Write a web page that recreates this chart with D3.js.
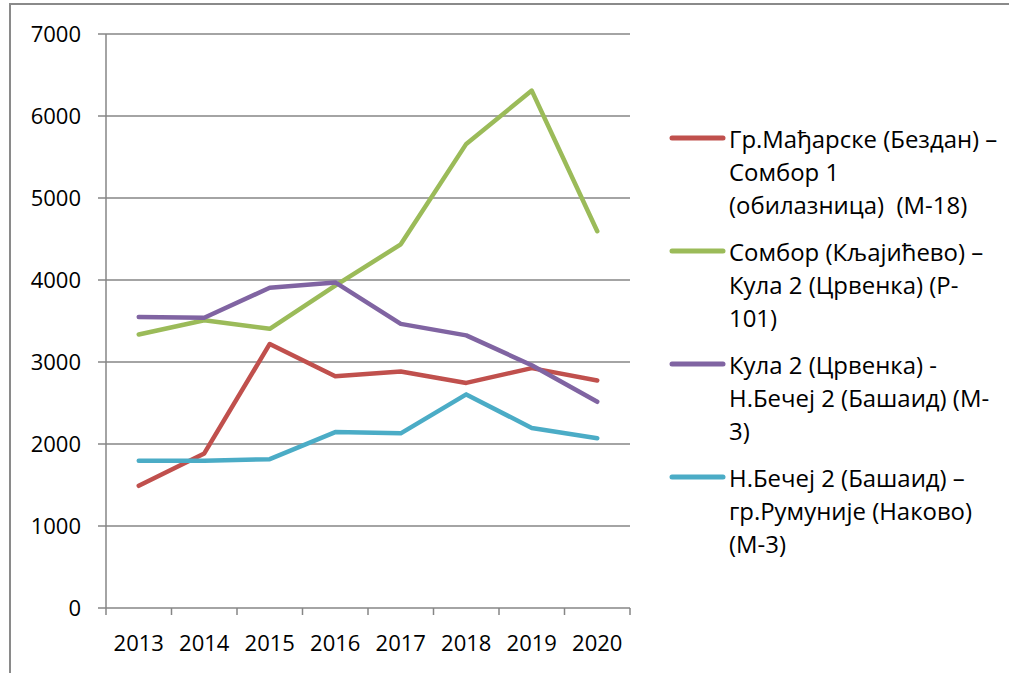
<!DOCTYPE html>
<html>
<head>
<meta charset="utf-8">
<script src="https://cdn.jsdelivr.net/npm/d3@7"></script>
<style>
  html, body { margin: 0; padding: 0; background: #fff; }
  svg { display: block; }
  text { font-family: "Open Sans", sans-serif; fill: #000; }
</style>
</head>
<body>
<svg id="chart" width="1009" height="673"></svg>
<script>
// Years on the category axis
const years = ["2013", "2014", "2015", "2016", "2017", "2018", "2019", "2020"];

// Traffic volume per road section
const bezdanSombor   = [1490, 1885, 3220, 2825, 2885, 2745, 2925, 2775];
const somborKula     = [3335, 3510, 3405, 3930, 4435, 5660, 6310, 4595];
const kulaBecej      = [3550, 3540, 3905, 3970, 3465, 3325, 2960, 2515];
const becejNakovo    = [1795, 1795, 1815, 2145, 2130, 2605, 2195, 2070];

const yTicks = [0, 1000, 2000, 3000, 4000, 5000, 6000, 7000];

const seriesNames = [
  ["Гр.Мађарске (Бездан) –", "Сомбор 1", "(обилазница)  (М-18)"],
  ["Сомбор (Кљајићево) –", "Кула 2 (Црвенка) (Р-", "101)"],
  ["Кула 2 (Црвенка) -", "Н.Бечеј 2 (Башаид) (М-", "3)"],
  ["Н.Бечеј 2 (Башаид) –", "гр.Румуније (Наково)", "(М-3)"]
];
const seriesColors = ["#C0504D", "#9BBB59", "#8064A2", "#4BACC6"];
const seriesValues = [bezdanSombor, somborKula, kulaBecej, becejNakovo];

const svg = d3.select("#chart");

// Outer chart frame
svg.append("rect")
  .attr("x", 10).attr("y", 4)
  .attr("width", 1020).attr("height", 700)
  .attr("fill", "none")
  .attr("stroke", "#8a8a8a")
  .attr("stroke-width", 2);

const plot = { left: 106, right: 630, top: 34, bottom: 608 };

const x = d3.scaleBand().domain(years).range([plot.left, plot.right]);
const y = d3.scaleLinear().domain([0, 7000]).range([plot.bottom, plot.top]);

const axisColor = "#868686";

// Horizontal gridlines with left tick stubs
svg.append("g")
  .selectAll("line")
  .data(yTicks)
  .join("line")
  .attr("x1", plot.left - 8)
  .attr("x2", plot.right)
  .attr("y1", d => y(d))
  .attr("y2", d => y(d))
  .attr("stroke", axisColor)
  .attr("stroke-width", 1.5);

// Vertical value axis
svg.append("line")
  .attr("x1", plot.left).attr("x2", plot.left)
  .attr("y1", plot.top).attr("y2", plot.bottom)
  .attr("stroke", axisColor).attr("stroke-width", 1.5);

// Category axis ticks at band boundaries
const boundaries = years.map(d => x(d)).concat([x(years[years.length - 1]) + x.bandwidth()]);
svg.append("g")
  .selectAll("line")
  .data(boundaries)
  .join("line")
  .attr("x1", d => d).attr("x2", d => d)
  .attr("y1", plot.bottom).attr("y2", plot.bottom + 7)
  .attr("stroke", axisColor).attr("stroke-width", 1.5);

// Stretch helper so labels keep the wide look of the typeface used in the chart
function widen(sel, factor) {
  sel.each(function () {
    const w = this.getComputedTextLength();
    d3.select(this).attr("textLength", w * factor).attr("lengthAdjust", "spacingAndGlyphs");
  });
}

// Value axis labels
svg.append("g")
  .selectAll("text")
  .data(yTicks)
  .join("text")
  .attr("x", 81)
  .attr("y", d => y(d) + 7.5)
  .attr("text-anchor", "end")
  .attr("font-size", 22)
  .text(d => d);

// Category labels
svg.append("g")
  .selectAll("text")
  .data(years)
  .join("text")
  .attr("x", d => x(d) + x.bandwidth() / 2)
  .attr("y", 651)
  .attr("text-anchor", "middle")
  .attr("font-size", 22)
  .text(d => d);

// Series lines
const line = d3.line()
  .x((d, i) => x(years[i]) + x.bandwidth() / 2)
  .y(d => y(d));

svg.append("g")
  .selectAll("path")
  .data(seriesValues)
  .join("path")
  .attr("d", d => line(d))
  .attr("fill", "none")
  .attr("stroke", (d, i) => seriesColors[i])
  .attr("stroke-width", 4.5)
  .attr("stroke-linecap", "round")
  .attr("stroke-linejoin", "round");

// Legend
const legend = svg.append("g");
const entryGap = 113, lineGap = 33, firstBaseline = 147.5;
seriesNames.forEach((lines, i) => {
  const base = firstBaseline + i * entryGap;
  legend.append("line")
    .attr("x1", 672).attr("x2", 723)
    .attr("y1", base - 9.5).attr("y2", base - 9.5)
    .attr("stroke", seriesColors[i])
    .attr("stroke-width", 5)
    .attr("stroke-linecap", "round");
  lines.forEach((t, j) => {
    legend.append("text")
      .attr("x", 729)
      .attr("y", base + j * lineGap)
      .attr("font-size", 23)
      .attr("xml:space", "preserve")
      .style("white-space", "pre")
      .text(t)
      .call(widen, 1.04);
  });
});
</script>
</body>
</html>
